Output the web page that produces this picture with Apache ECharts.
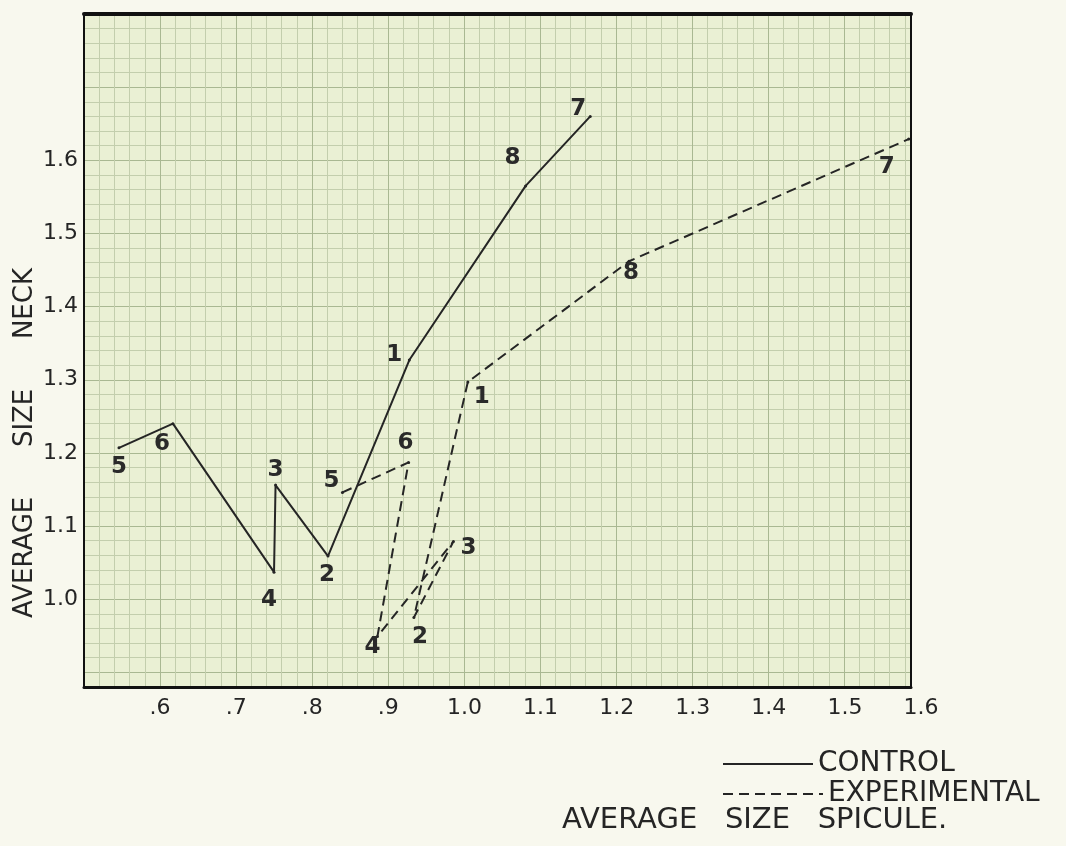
<!DOCTYPE html>
<html><head><meta charset="utf-8">
<script src="https://cdn.jsdelivr.net/npm/echarts@6/dist/echarts.min.js"></script>
<style>html,body{margin:0;padding:0;background:#f8f8ee;}#c{width:1066px;height:846px;}</style>
</head><body><div id="c"></div>
<script>
// ---- data ----
const xTickLabels = ['.6', '.7', '.8', '.9', '1.0', '1.1', '1.2', '1.3', '1.4', '1.5', '1.6'];
const yTickLabels = ['1.0', '1.1', '1.2', '1.3', '1.4', '1.5', '1.6'];
const pointIds = ['5', '6', '4', '3', '2', '1', '8', '7'];
const controlX = [0.546, 0.617, 0.750, 0.752, 0.821, 0.928, 1.081, 1.166];
const controlY = [1.207, 1.240, 1.037, 1.156, 1.059, 1.327, 1.565, 1.660];
const experimentalX = [0.840, 0.927, 0.886, 0.986, 0.934, 1.005, 1.217, 1.585];
const experimentalY = [1.146, 1.187, 0.949, 1.079, 0.975, 1.297, 1.462, 1.629];
const seriesNames = ['CONTROL', 'EXPERIMENTAL'];
const xTitle = 'AVERAGE   SIZE   SPICULE.';
const yTitle = 'AVERAGE      SIZE      NECK';

// ---- styling (label offsets in px) ----
const controlLabelOffsets = [[0, 19], [-11, 20], [-5, 28], [0, -15], [-1, 19], [-15, -5], [-13, -28], [-12, -7]];
const expLabelOffsets = [[-11, -11], [-3, -19], [-5, 11], [15, 7], [6, 20], [14, 15], [2, 12], [-22, 28]];

const FONT = 'DejaVu Sans';
const INK = '#252525';
const MINOR = '#c3cead';
const MAJOR = '#a9b892';

function yLabel(v) {
  const k = Math.round(v * 10);
  if (Math.abs(v * 10 - k) > 1e-6) return '';
  const s = yTickLabels[k - 10];
  return s === undefined ? '' : s;
}
function xLabel(v) {
  const k = Math.round(v * 10);
  if (Math.abs(v * 10 - k) > 1e-6) return '';
  const s = xTickLabels[k - 6];
  return s === undefined ? '' : s;
}
function buildData(xs, ys, offs) {
  return xs.map((x, i) => ({ value: [x, ys[i]], label: { offset: offs[i] } }));
}
const numLabel = {
  show: true, position: 'inside',
  formatter: p => pointIds[p.dataIndex],
  fontSize: 23, fontWeight: 'bold', color: '#2a2a2a', fontFamily: FONT
};

const chart = echarts.init(document.getElementById('c'), null, { renderer: 'canvas' });
chart.setOption({
  animation: false,
  backgroundColor: '#f8f8ee',
  title: {
    text: xTitle, left: 562, top: 806, padding: 0,
    textStyle: { fontSize: 29, fontWeight: 'normal', color: INK, fontFamily: FONT }
  },
  legend: [
    {
      data: [seriesNames[0]], left: 722, top: 750, itemWidth: 90, itemHeight: 14, padding: 0,
      selectedMode: false,
      textStyle: { fontSize: 28, color: INK, fontFamily: FONT },
      itemStyle: { color: 'rgba(0,0,0,0)', borderWidth: 0 }
    },
    {
      data: [seriesNames[1]], left: 722, top: 780, itemWidth: 100, itemHeight: 14, padding: 0,
      selectedMode: false,
      textStyle: { fontSize: 28, color: INK, fontFamily: FONT },
      itemStyle: { color: 'rgba(0,0,0,0)', borderWidth: 0 }
    }
  ],
  grid: [
    { left: 84, right: 155, top: 14, bottom: 159, show: true, backgroundColor: '#eaf0d4', borderWidth: 0 },
    { left: 84, right: 145, top: 14, bottom: 159 },
    { left: 84, right: 155, top: 255, bottom: 215 }
  ],
  xAxis: [
    {
      gridIndex: 0, type: 'value', min: 0.5, max: 1.588, interval: 0.02, position: 'bottom',
      axisLine: { show: true, onZero: false, lineStyle: { color: '#111', width: 3 } },
      axisTick: { show: false }, axisLabel: { show: false },
      splitLine: { show: true, lineStyle: { color: [MAJOR, MINOR, MINOR, MINOR, MINOR], width: 1 } }
    },
    {
      gridIndex: 0, type: 'value', min: 0.5, max: 1.588, position: 'top',
      axisLine: { show: true, onZero: false, lineStyle: { color: '#111', width: 4 } },
      axisTick: { show: false }, axisLabel: { show: false }, splitLine: { show: false }
    },
    {
      gridIndex: 1, type: 'value', min: 0.5, max: 1.6, interval: 0.1, position: 'bottom',
      axisLine: { show: false }, axisTick: { show: false }, splitLine: { show: false },
      axisLabel: { show: true, formatter: xLabel, fontSize: 22, margin: 10, color: INK, fontFamily: FONT }
    },
    { gridIndex: 2, type: 'value', show: false, min: 0, max: 1 }
  ],
  yAxis: [
    {
      gridIndex: 0, type: 'value', min: 0.88, max: 1.80, interval: 0.02, position: 'left',
      axisLine: { show: true, onZero: false, lineStyle: { color: '#111', width: 2 } },
      axisTick: { show: false },
      axisLabel: { show: true, formatter: yLabel, fontSize: 22, margin: 6, color: INK, fontFamily: FONT },
      splitLine: { show: true, lineStyle: { color: [MINOR, MAJOR, MINOR, MINOR, MINOR], width: 1 } }
    },
    {
      gridIndex: 0, type: 'value', min: 0.88, max: 1.80, position: 'right',
      axisLine: { show: true, onZero: false, lineStyle: { color: '#111', width: 2 } },
      axisTick: { show: false }, axisLabel: { show: false }, splitLine: { show: false }
    },
    { gridIndex: 1, type: 'value', show: false, min: 0, max: 1 },
    {
      gridIndex: 2, type: 'value', min: 0, max: 1, position: 'left',
      name: yTitle, nameLocation: 'middle', nameRotate: 90, nameGap: 46,
      nameTextStyle: { fontSize: 26, color: INK, fontFamily: FONT },
      axisLine: { show: false }, axisTick: { show: false }, axisLabel: { show: false }, splitLine: { show: false }
    }
  ],
  series: [
    {
      name: seriesNames[0], type: 'line', xAxisIndex: 0, yAxisIndex: 0,
      data: buildData(controlX, controlY, controlLabelOffsets),
      symbol: 'circle', symbolSize: 3, showSymbol: true,
      lineStyle: { color: INK, width: 2, type: 'solid' },
      itemStyle: { color: INK },
      label: numLabel, emphasis: { disabled: true }, z: 5
    },
    {
      name: seriesNames[1], type: 'line', xAxisIndex: 0, yAxisIndex: 0,
      data: buildData(experimentalX, experimentalY, expLabelOffsets),
      symbol: 'circle', symbolSize: 3, showSymbol: true,
      lineStyle: { color: INK, width: 2, type: [10, 6] },
      itemStyle: { color: INK },
      label: numLabel, emphasis: { disabled: true }, z: 5
    }
  ]
});
</script></body></html>
